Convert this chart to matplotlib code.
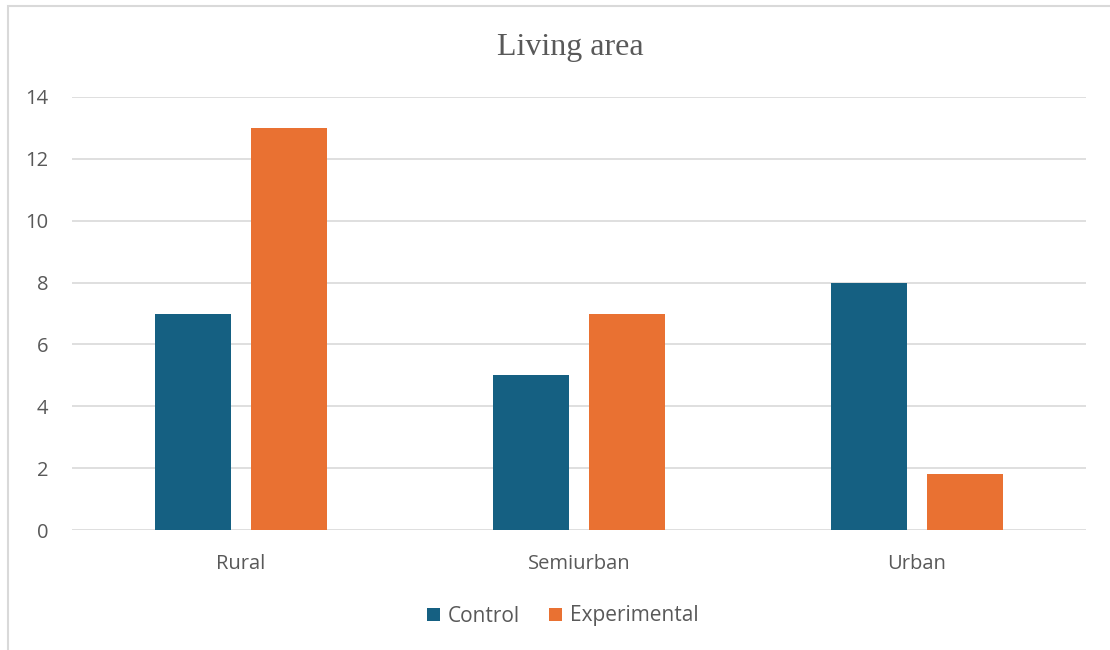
import numpy as np
import matplotlib.pyplot as plt
from matplotlib.patches import Rectangle

categories = ["Rural", "Semiurban", "Urban"]
control = [7, 5, 8]
experimental = [13, 7, 1.8]
series_names = ["Control", "Experimental"]

blue = "#156082"
orange = "#E97132"
grey_text = "#595959"
grid_col = "#D9D9D9"

plt.rcParams['font.family'] = ['Open Sans', 'DejaVu Sans']

fig = plt.figure(figsize=(11.1, 6.5), dpi=100)
ax = fig.add_axes([72/1110, 120/650, 1014/1110, 433/650])

# outer chart border (only left and top visible in the reference)
fig.patches.append(Rectangle((8/1110, -0.1), 1.2, 1 - 6/650 + 0.1, transform=fig.transFigure,
                             fill=False, edgecolor=grid_col, linewidth=1.5))

x = np.arange(len(categories))
w = 0.225
off = 0.142
ax.bar(x - off, control, w, color=blue, label=series_names[0], zorder=3)
ax.bar(x + off, experimental, w, color=orange, label=series_names[1], zorder=3)

ax.set_xlim(-0.5, 2.5)
ax.set_ylim(0, 14)
ax.set_yticks(range(0, 15, 2))
ax.yaxis.grid(True, color=grid_col, linewidth=1.2, zorder=0)
for s in ax.spines.values():
    s.set_visible(False)
ax.tick_params(axis='both', length=0, colors=grey_text, labelsize=14.5)
ax.tick_params(axis='y', pad=17)
ax.tick_params(axis='x', pad=17.5)
ax.set_xticks(x)
ax.set_xticklabels(categories)

fig.text(570/1110, 1 - 47/650, "Living area", ha='center', va='center',
         fontsize=23, color=grey_text, family=['Liberation Serif', 'DejaVu Serif'])

fig.legend(loc='center', bbox_to_anchor=(563/1110, 1 - 616/650), ncol=2, frameon=False,
           fontsize=15, labelcolor=grey_text, handlelength=0.6, handleheight=0.6,
           handletextpad=0.4, columnspacing=1.4)

fig.savefig("out.png", dpi=100)
